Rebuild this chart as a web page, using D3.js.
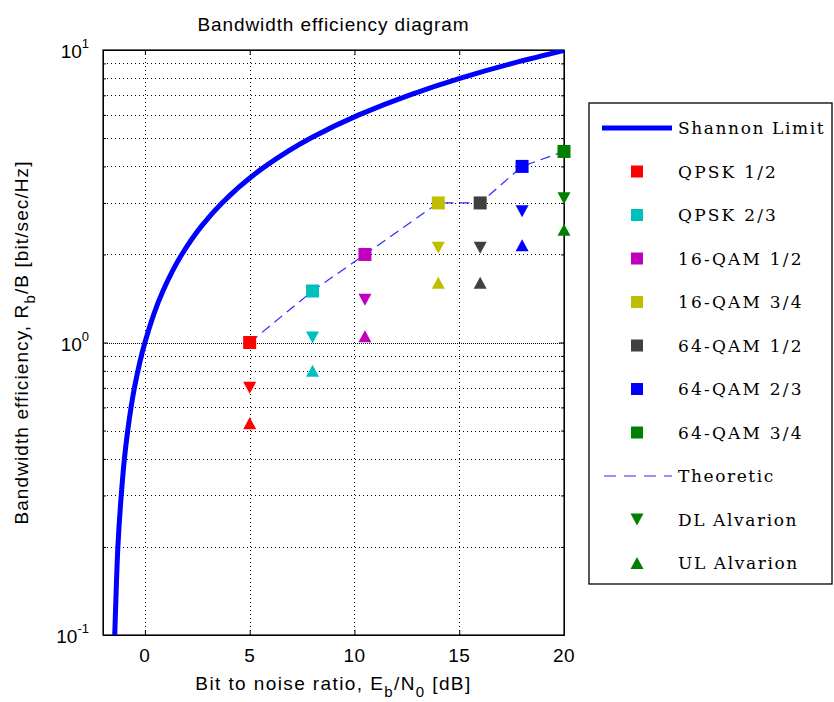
<!DOCTYPE html>
<html>
<head>
<meta charset="utf-8">
<script src="https://cdn.jsdelivr.net/npm/d3@7"></script>
<style>
  body { margin: 0; background: #fff; }
  svg { display: block; }
</style>
</head>
<body>
<svg id="chart" width="834" height="702"></svg>
<script>
'use strict';

// values
let shannonEbNo = [-1.44, -1.36, -1.29, -1.13, -0.98, -0.82, -0.50, 0, 0.86, 1.76, 2.70, 3.68, 5.74, 7.92, 10.21, 12.59, 15.03, 17.54, 20.1]
let shannonRate = [0.1, 0.15, 0.2, 0.3, 0.4, 0.5, 0.7, 1, 1.5, 2, 2.5, 3, 4, 5, 6, 7, 8, 9, 10]

let schemes = ['QPSK 1/2', 'QPSK 2/3', '16-QAM 1/2', '16-QAM 3/4', '64-QAM 1/2', '64-QAM 2/3', '64-QAM 3/4']
let ebno = [5, 8, 10.5, 14, 16, 18, 20]
let theoretic = [1, 1.5, 2, 3, 3, 4, 4.5]
let dlAlvarion = [0.70, 1.04, 1.40, 2.11, 2.11, 2.81, 3.11]
let ulAlvarion = [0.53, 0.80, 1.05, 1.60, 1.60, 2.15, 2.43]
let colors = ['#ff0000', '#00bfbf', '#bf00bf', '#bfbf00', '#404040', '#0000ff', '#008000']

let xTicks = [0, 5, 10, 15, 20]
let yMajor = [0.1, 1, 10]
let yMinor = [0.2, 0.3, 0.4, 0.5, 0.6, 0.7, 0.8, 0.9, 2, 3, 4, 5, 6, 7, 8, 9]

let pLeft = 103, pRight = 564, pTop = 50, pBottom = 635
let sans = 'Liberation Sans, Arial, sans-serif'
let serif = 'DejaVu Serif, serif'

let svg = d3.select('#chart')
svg.append('rect').attr('width', 834).attr('height', 702).attr('fill', '#fff')

let x = d3.scaleLinear().domain([-2, 20]).range([pLeft, pRight])
let y = d3.scaleLog().domain([0.1, 10]).range([pBottom, pTop])

svg.append('clipPath').attr('id', 'clip')
    .append('rect')
    .attr('x', pLeft).attr('y', pTop)
    .attr('width', pRight - pLeft).attr('height', pBottom - pTop)

// grid
let grid = svg.append('g').attr('stroke', '#000').attr('stroke-width', 1)
    .attr('stroke-dasharray', '1,3')
grid.selectAll('.gx').data(xTicks.filter(d => d < 20)).enter().append('line')
    .attr('x1', d => Math.round(x(d)) + 0.5).attr('x2', d => Math.round(x(d)) + 0.5)
    .attr('y1', pBottom).attr('y2', pTop)
grid.selectAll('.gy').data(yMinor.concat([1])).enter().append('line')
    .attr('y1', d => Math.round(y(d)) + 0.5).attr('y2', d => Math.round(y(d)) + 0.5)
    .attr('x1', pLeft).attr('x2', pRight)
// major line at 10^0 drawn twice in matlab, looks denser
grid.append('line')
    .attr('y1', Math.round(y(1)) + 0.5).attr('y2', Math.round(y(1)) + 0.5)
    .attr('x1', pLeft + 2).attr('x2', pRight)

// axes, ticks pointing in
let axisB = d3.axisBottom(x).tickValues(xTicks).tickSizeInner(-5).tickSizeOuter(0).tickFormat('')
let axisT = d3.axisTop(x).tickValues(xTicks).tickSizeInner(-5).tickSizeOuter(0).tickFormat('')
svg.append('g').attr('transform', 'translate(0,' + pBottom + ')').call(axisB)
svg.append('g').attr('transform', 'translate(0,' + pTop + ')').call(axisT)

let yMajL = d3.axisLeft(y).tickValues(yMajor).tickSizeInner(-5).tickSizeOuter(0).tickFormat('')
let yMinL = d3.axisLeft(y).tickValues(yMinor).tickSizeInner(-3).tickSizeOuter(0).tickFormat('')
let yMajR = d3.axisRight(y).tickValues(yMajor).tickSizeInner(-5).tickSizeOuter(0).tickFormat('')
let yMinR = d3.axisRight(y).tickValues(yMinor).tickSizeInner(-3).tickSizeOuter(0).tickFormat('')
svg.append('g').attr('transform', 'translate(' + pLeft + ',0)').call(yMajL)
svg.append('g').attr('transform', 'translate(' + pLeft + ',0)').call(yMinL)
svg.append('g').attr('transform', 'translate(' + pRight + ',0)').call(yMajR)
svg.append('g').attr('transform', 'translate(' + pRight + ',0)').call(yMinR)
svg.selectAll('.domain').attr('stroke', '#000')
svg.selectAll('.tick line').attr('stroke', '#000')

svg.append('rect')
    .attr('x', pLeft).attr('y', pTop)
    .attr('width', pRight - pLeft).attr('height', pBottom - pTop)
    .attr('fill', 'none').attr('stroke', '#000').attr('stroke-width', 1.2)

// tick labels
svg.selectAll('.xl').data(xTicks).enter().append('text')
    .attr('x', d => x(d)).attr('y', pBottom + 27)
    .attr('text-anchor', 'middle')
    .attr('font-family', sans).attr('font-size', 19)
    .attr('letter-spacing', 0.5)
    .text(d => d)

let exps = ['-1', '0', '1']
yMajor.forEach(function(v, i) {
    let t = svg.append('text')
        .attr('x', pLeft - 14).attr('y', y(v) + 8)
        .attr('text-anchor', 'end')
        .attr('font-family', sans).attr('font-size', 19)
    t.append('tspan').text('10')
    t.append('tspan').attr('dy', -10).attr('font-size', 13).text(exps[i])
})

// title and axis labels
svg.append('text')
    .attr('x', (pLeft + pRight) / 2).attr('y', 31)
    .attr('text-anchor', 'middle')
    .attr('font-family', sans).attr('font-size', 19)
    .attr('letter-spacing', 0.9)
    .text('Bandwidth efficiency diagram')

let xl = svg.append('text')
    .attr('x', (pLeft + pRight) / 2).attr('y', 690)
    .attr('text-anchor', 'middle')
    .attr('font-family', sans).attr('font-size', 19)
    .attr('letter-spacing', 1.4)
xl.append('tspan').text('Bit to noise ratio, E')
xl.append('tspan').attr('dy', 7).attr('font-size', 15).text('b')
xl.append('tspan').attr('dy', -7).text('/N')
xl.append('tspan').attr('dy', 7).attr('font-size', 15).text('0')
xl.append('tspan').attr('dy', -7).text(' [dB]')

let yl = svg.append('text')
    .attr('transform', 'translate(28,' + (pTop + pBottom) / 2 + ') rotate(-90)')
    .attr('text-anchor', 'middle')
    .attr('font-family', sans).attr('font-size', 19)
    .attr('letter-spacing', 1.1)
yl.append('tspan').text('Bandwidth efficiency, R')
yl.append('tspan').attr('dy', 7).attr('font-size', 15).text('b')
yl.append('tspan').attr('dy', -7).text('/B [bit/sec/Hz]')

// plot layer
let plot = svg.append('g').attr('clip-path', 'url(#clip)')

let shannonLine = d3.line()
    .x(d => x(d[0])).y(d => y(d[1]))
    .curve(d3.curveMonotoneY)
plot.append('path')
    .datum(shannonEbNo.map((v, i) => [v, shannonRate[i]]))
    .attr('d', shannonLine)
    .attr('fill', 'none').attr('stroke', '#0000ff').attr('stroke-width', 5)

let theoLine = d3.line().x(d => x(d[0])).y(d => y(d[1]))
plot.append('path')
    .datum(ebno.map((v, i) => [v, theoretic[i]]))
    .attr('d', theoLine)
    .attr('fill', 'none').attr('stroke', '#2b2bff').attr('stroke-width', 1.2)
    .attr('stroke-dasharray', '10,6')

let sq = 13, tw = 6.5, th = 6
let triDown = (cx, cy) => 'M' + (cx - tw) + ',' + (cy - th) + 'L' + (cx + tw) + ',' + (cy - th) +
    'L' + cx + ',' + (cy + th) + 'Z'
let triUp = (cx, cy) => 'M' + (cx - tw) + ',' + (cy + th) + 'L' + (cx + tw) + ',' + (cy + th) +
    'L' + cx + ',' + (cy - th) + 'Z'

let marks = svg.append('g')
marks.selectAll('.sq').data(ebno).enter().append('rect')
    .attr('x', d => x(d) - sq / 2)
    .attr('y', (d, i) => y(theoretic[i]) - sq / 2)
    .attr('width', sq).attr('height', sq)
    .attr('fill', (d, i) => colors[i])
marks.selectAll('.dl').data(ebno).enter().append('path')
    .attr('d', (d, i) => triDown(x(d), y(dlAlvarion[i])))
    .attr('fill', (d, i) => colors[i])
marks.selectAll('.ul').data(ebno).enter().append('path')
    .attr('d', (d, i) => triUp(x(d), y(ulAlvarion[i])))
    .attr('fill', (d, i) => colors[i])

// legend
let legX = 589, legY = 103, legW = 243, legH = 481
let lg = svg.append('g')
lg.append('rect')
    .attr('x', legX).attr('y', legY).attr('width', legW).attr('height', legH)
    .attr('fill', '#fff').attr('stroke', '#000').attr('stroke-width', 1.3)

let entries = [{ name: 'Shannon Limit', kind: 'thick' }]
    .concat(schemes.map((s, i) => ({ name: s, kind: 'square', color: colors[i] })))
    .concat([
        { name: 'Theoretic', kind: 'dash' },
        { name: 'DL Alvarion', kind: 'down', color: '#008000' },
        { name: 'UL Alvarion', kind: 'up', color: '#008000' }
    ])

let rowStep = (563 - 128) / (entries.length - 1)
entries.forEach(function(e, i) {
    let cy = 128 + i * rowStep
    let mx = 637
    if (e.kind === 'thick') {
        lg.append('line').attr('x1', 602).attr('x2', 672).attr('y1', cy).attr('y2', cy)
            .attr('stroke', '#0000ff').attr('stroke-width', 5)
    } else if (e.kind === 'dash') {
        lg.append('line').attr('x1', 604).attr('x2', 672).attr('y1', cy).attr('y2', cy)
            .attr('stroke', '#2b2bff').attr('stroke-width', 1.2).attr('stroke-dasharray', '12,8')
    } else if (e.kind === 'square') {
        lg.append('rect').attr('x', mx - 6).attr('y', cy - 6).attr('width', 12).attr('height', 12)
            .attr('fill', e.color)
    } else if (e.kind === 'down') {
        lg.append('path').attr('d', triDown(mx, cy)).attr('fill', e.color)
    } else {
        lg.append('path').attr('d', triUp(mx, cy)).attr('fill', e.color)
    }
    lg.append('text')
        .attr('x', 678).attr('y', cy + 6)
        .attr('font-family', serif).attr('font-size', 17)
        .attr('letter-spacing', e.kind === 'square' ? 2.2 : 1.6)
        .text(e.name)
})
</script>
</body>
</html>
